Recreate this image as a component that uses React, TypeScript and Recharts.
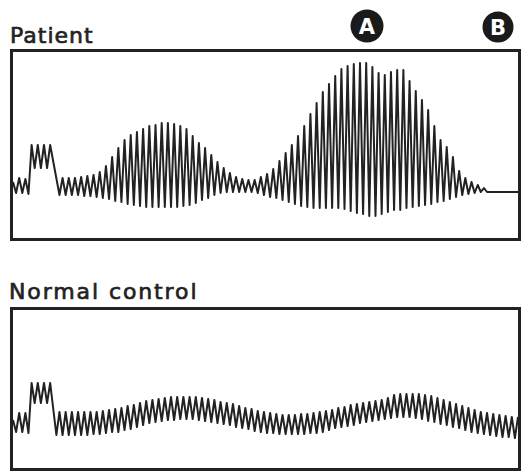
import { LineChart, Line, XAxis, YAxis } from 'recharts';

// sample index = half a cycle; values = trace height above the bottom of each box
// calibration step at the start of each trace
const patientCal = [56, 45, 60, 45, 59, 44, 93, 70, 93, 70, 93, 70, 93];
const patientTroughs = [
    43, 43, 43, 43, 42, 42, 41, 40, 39, 37, 36, 34, 33, 32, 31, 31, 31, 31, 31, 31,
    32, 33, 35, 38, 40, 43, 45, 46, 46, 46, 46, 46, 45, 43, 41, 40, 38, 36, 34, 32,
    31, 30, 30, 30, 30, 30, 29, 27, 25, 24, 22, 22, 24, 26, 28, 28, 30, 31, 32, 33,
    34, 36, 37, 39, 41, 43, 44, 45, 46, 46,
];
const patientPeaks = [
    60, 60, 60, 61, 62, 63, 66, 72, 81, 90, 98, 103, 106, 109, 112, 113, 115, 115, 114, 112,
    109, 102, 95, 90, 83, 76, 70, 65, 61, 59, 58, 58, 61, 64, 69, 77, 85, 93, 102, 112,
    124, 135, 146, 154, 162, 169, 172, 174, 175, 175, 171, 165, 163, 166, 168, 168, 157, 147, 138, 128,
    112, 98, 91, 81, 67, 60, 56, 53, 50,
];

const controlCal = [48, 36, 55, 36, 55, 35, 85, 65, 85, 65, 85, 65, 85];
const controlTroughs = [
    33, 33, 33, 33, 33, 33, 34, 34, 35, 36, 36, 38, 39, 41, 43, 45, 46, 47, 48, 48,
    49, 49, 49, 48, 47, 46, 45, 44, 43, 41, 40, 39, 37, 36, 35, 35, 34, 34, 34, 34,
    34, 35, 35, 36, 38, 40, 41, 42, 43, 45, 46, 47, 48, 49, 50, 51, 51, 51, 50, 49,
    47, 46, 44, 43, 41, 40, 38, 36, 35, 34, 33, 32, 31, 31, 30,
];
const controlPeaks = [
    56, 56, 56, 56, 56, 56, 56, 57, 58, 59, 60, 62, 63, 65, 67, 68, 69, 70, 71, 71,
    71, 71, 71, 70, 69, 68, 66, 65, 64, 62, 60, 59, 57, 56, 55, 54, 53, 53, 53, 54,
    54, 55, 56, 57, 58, 60, 61, 63, 64, 65, 66, 67, 68, 70, 73, 74, 74, 74, 74, 73,
    72, 70, 68, 66, 64, 62, 60, 58, 56, 55, 54, 53, 52, 51, 51,
];

const LAST_SAMPLE = 163;

function buildPatient() {
    const rows = patientCal.map((v, k) => ({ k, v }));
    patientTroughs.forEach((t, i) => {
        rows.push({ k: 15 + 2 * i, v: t });
        if (i < patientPeaks.length) rows.push({ k: 16 + 2 * i, v: patientPeaks[i] });
    });
    // trace goes flat after the response dies out
    rows.push({ k: LAST_SAMPLE, v: patientTroughs[patientTroughs.length - 1] });
    return rows;
}

function buildControl() {
    const rows = controlCal.map((v, k) => ({ k, v }));
    controlTroughs.forEach((t, i) => {
        rows.push({ k: 14 + 2 * i, v: t });
        rows.push({ k: 15 + 2 * i, v: controlPeaks[i] });
    });
    return rows;
}

const INK = '#222';

function Trace({ data, width, height }: { data: { k: number; v: number }[]; width: number; height: number }) {
    return (
        <LineChart width={width} height={height} data={data} margin={{ top: 0, right: 0, bottom: 0, left: 0 }}>
            <XAxis type="number" dataKey="k" domain={[0, LAST_SAMPLE]} hide />
            <YAxis type="number" domain={[0, height]} hide />
            <Line
                type="linear"
                dataKey="v"
                stroke={INK}
                strokeWidth={2}
                strokeLinejoin="round"
                dot={false}
                activeDot={false}
                isAnimationActive={false}
            />
        </LineChart>
    );
}

const boxStyle = {
    position: 'absolute' as const,
    left: 10,
    width: 511,
    border: `3px solid ${INK}`,
    boxSizing: 'border-box' as const,
};

export default function App() {
    return (
        <div style={{ position: 'absolute', left: 0, top: 0, width: 524, height: 472, background: '#fff', overflow: 'hidden' }}>
            <svg width={524} height={472} style={{ position: 'absolute', left: 0, top: 0 }}>
                <g fontFamily="DejaVu Sans" fill={INK} stroke={INK} strokeWidth={0.7} fontSize={22}>
                    <text x={10} y={43} letterSpacing={1}>Patient</text>
                    <text x={9} y={299} letterSpacing={1.9}>Normal control</text>
                </g>
                <circle cx={367} cy={26} r={16.5} fill="#1a1a1a" />
                <circle cx={498} cy={27} r={15.5} fill="#1a1a1a" />
                <g fontFamily="DejaVu Sans" fontWeight="bold" fill="#fff" fontSize={21} textAnchor="middle">
                    <text x={367} y={33.5}>A</text>
                    <text x={498} y={34.5}>B</text>
                </g>
            </svg>
            <div style={{ ...boxStyle, top: 49, height: 192 }}>
                <Trace data={buildPatient()} width={505} height={186} />
            </div>
            <div style={{ ...boxStyle, top: 307, height: 164 }}>
                <Trace data={buildControl()} width={505} height={158} />
            </div>
        </div>
    );
}
